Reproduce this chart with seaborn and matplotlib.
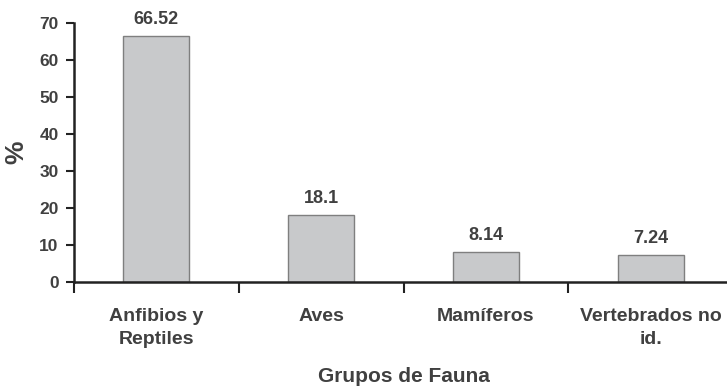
import matplotlib
matplotlib.use("Agg")
import matplotlib.pyplot as plt
import seaborn as sns
import pandas as pd

categories = ["Anfibios y\nReptiles", "Aves", "Mamíferos", "Vertebrados no\nid."]
values = [66.52, 18.1, 8.14, 7.24]
value_labels = ["66.52", "18.1", "8.14", "7.24"]
y_ticks = [0, 10, 20, 30, 40, 50, 60, 70]

sns.set_style("white")
plt.rcParams['font.family'] = ['Liberation Sans', 'DejaVu Sans']
plt.rcParams['font.weight'] = 'bold'

text_color = '#404040'
df = pd.DataFrame({"cat": categories, "val": values})

fig = plt.figure(figsize=(7.27, 3.90), dpi=100)
ax = fig.add_axes([74/727, 1 - 282/390, 659/727, (282 - 23)/390])

sns.barplot(data=df, x="cat", y="val", color="#c8c9cb", edgecolor="#7f7f7f",
            linewidth=1.0, width=0.4, saturation=1, ax=ax)

ax.set_xlim(-0.5, 3.5)
ax.set_ylim(0, 70)
ax.set_yticks(y_ticks)
ax.set_yticklabels([str(t) for t in y_ticks], fontsize=12.5, fontweight='bold', color=text_color)

ax.set_xticks(range(len(categories)))
ax.set_xticklabels(categories, fontsize=14, fontweight='bold', color=text_color, linespacing=1.4)
ax.set_xticks([-0.5, 0.5, 1.5, 2.5, 3.5], minor=True)
ax.tick_params(axis='x', which='major', length=0, pad=19)
ax.tick_params(axis='x', which='minor', length=8, width=1.5, color='#222222', direction='out', bottom=True)
ax.tick_params(axis='y', which='major', length=6, width=1.5, color='#222222', direction='out', left=True, pad=5)

for s in ['top', 'right']:
    ax.spines[s].set_visible(False)
for s in ['left', 'bottom']:
    ax.spines[s].set_color('#222222')
    ax.spines[s].set_linewidth(1.8)

ax.set_xlabel("Grupos de Fauna", fontsize=15, fontweight='bold', color=text_color, labelpad=14)
ax.set_ylabel("%", fontsize=19, fontweight='bold', color=text_color, labelpad=8)

ax.bar_label(ax.containers[0], labels=value_labels, padding=6, fontsize=13,
             fontweight='bold', color=text_color)

fig.savefig("out.png", dpi=100)
